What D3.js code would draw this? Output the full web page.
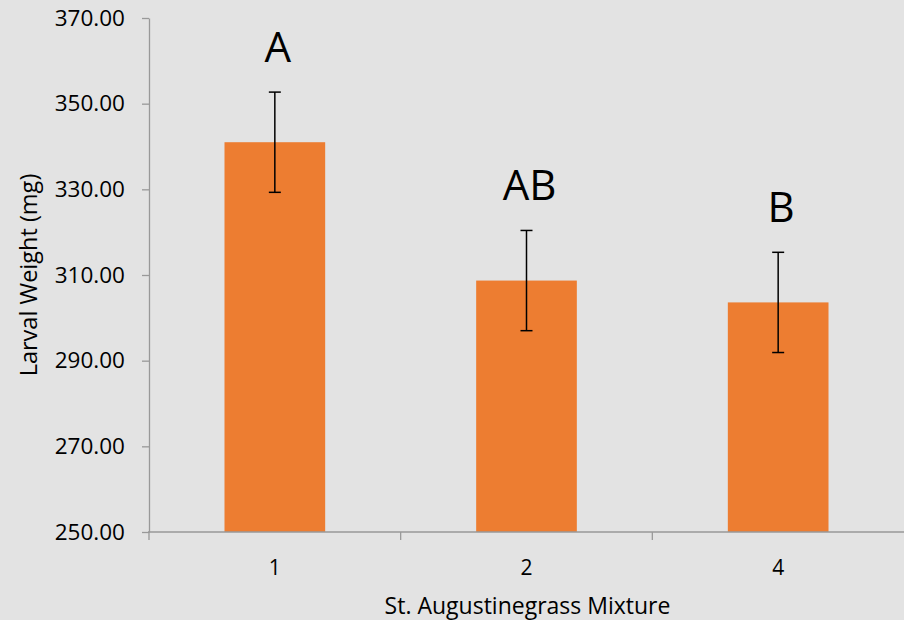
<!DOCTYPE html>
<html>
<head>
<meta charset="utf-8">
<script src="https://cdn.jsdelivr.net/npm/d3@7"></script>
<style>
  html, body { margin: 0; padding: 0; background: #e3e3e3; }
  svg { display: block; font-family: "Open Sans", sans-serif; }
</style>
</head>
<body>
<svg id="chart" width="904" height="620"></svg>
<script>
// Larval weight by St. Augustinegrass mixture
const categories = ["1", "2", "4"];
const means = [341.0, 308.7, 303.6];
const errors = [11.7, 11.7, 11.7];
const letters = ["A", "AB", "B"];
const yTicks = [250, 270, 290, 310, 330, 350, 370];

const width = 904, height = 620;
const margin = { top: 18, right: 0, bottom: 88, left: 149 };

const svg = d3.select("#chart");
svg.append("rect").attr("width", width).attr("height", height).attr("fill", "#e3e3e3");

const x = d3.scaleBand()
  .domain(categories)
  .range([margin.left, width - margin.right])
  .paddingInner(0.6)
  .paddingOuter(0.3);

const y = d3.scaleLinear()
  .domain([250, 370])
  .range([height - margin.bottom, margin.top]);

const axisColor = "#999999";

// Y axis
const yAxis = svg.append("g")
  .attr("transform", `translate(${margin.left},0)`)
  .call(d3.axisLeft(y).tickValues(yTicks).tickFormat(d3.format(".2f")).tickSize(7).tickSizeOuter(0));
yAxis.select(".domain").attr("stroke", axisColor).attr("stroke-width", 1.3);
yAxis.selectAll(".tick line").attr("stroke", axisColor).attr("stroke-width", 1.3);
yAxis.selectAll(".tick text").attr("fill", "#000").attr("font-size", 22.5).attr("x", -24).attr("font-family", "Open Sans");

// Bars
svg.append("g").selectAll("rect")
  .data(categories)
  .join("rect")
  .attr("x", d => x(d))
  .attr("width", x.bandwidth())
  .attr("y", (d, i) => y(means[i]))
  .attr("height", (d, i) => y(250) - y(means[i]))
  .attr("fill", "#ED7D31");

// X axis with category boundary ticks
const xAxisG = svg.append("g").attr("transform", `translate(0,${y(250)})`);
xAxisG.append("line")
  .attr("x1", margin.left - 1).attr("x2", width)
  .attr("stroke", axisColor).attr("stroke-width", 1.3);
const step = x.step();
const boundaries = categories.map((d, i) => x(d) - x.paddingInner() * step / 2);
xAxisG.selectAll(".bound")
  .data(boundaries)
  .join("line")
  .attr("class", "bound")
  .attr("x1", d => d).attr("x2", d => d)
  .attr("y1", 0).attr("y2", 8)
  .attr("stroke", axisColor).attr("stroke-width", 1.3);
xAxisG.selectAll(".cat")
  .data(categories)
  .join("text")
  .attr("class", "cat")
  .attr("x", d => x(d) + x.bandwidth() / 2)
  .attr("y", 43)
  .attr("text-anchor", "middle")
  .attr("font-size", 21)
  .text(d => d);

// Error bars
const eb = svg.append("g").attr("stroke", "#000").attr("stroke-width", 1.5);
categories.forEach((c, i) => {
  const cx = x(c) + x.bandwidth() / 2;
  const hi = y(means[i] + errors[i]);
  const lo = y(means[i] - errors[i]);
  eb.append("line").attr("x1", cx).attr("x2", cx).attr("y1", hi).attr("y2", lo);
  eb.append("line").attr("x1", cx - 6).attr("x2", cx + 6).attr("y1", hi).attr("y2", hi);
  eb.append("line").attr("x1", cx - 6).attr("x2", cx + 6).attr("y1", lo).attr("y2", lo);
});

// Significance letters
svg.append("g").selectAll("text")
  .data(categories)
  .join("text")
  .attr("x", d => x(d) + x.bandwidth() / 2 + 3)
  .attr("y", (d, i) => y(means[i] + errors[i]) - 30)
  .attr("text-anchor", "middle")
  .attr("font-size", 42)
  .text((d, i) => letters[i]);

// Axis titles
svg.append("text")
  .attr("transform", `translate(37,${(margin.top + y(250)) / 2}) rotate(-90)`)
  .attr("text-anchor", "middle")
  .attr("font-size", 23.5)
  .text("Larval Weight (mg)");

svg.append("text")
  .attr("x", (margin.left + width) / 2 + 1)
  .attr("y", 614)
  .attr("text-anchor", "middle")
  .attr("font-size", 23)
  .text("St. Augustinegrass Mixture");
</script>
</body>
</html>
